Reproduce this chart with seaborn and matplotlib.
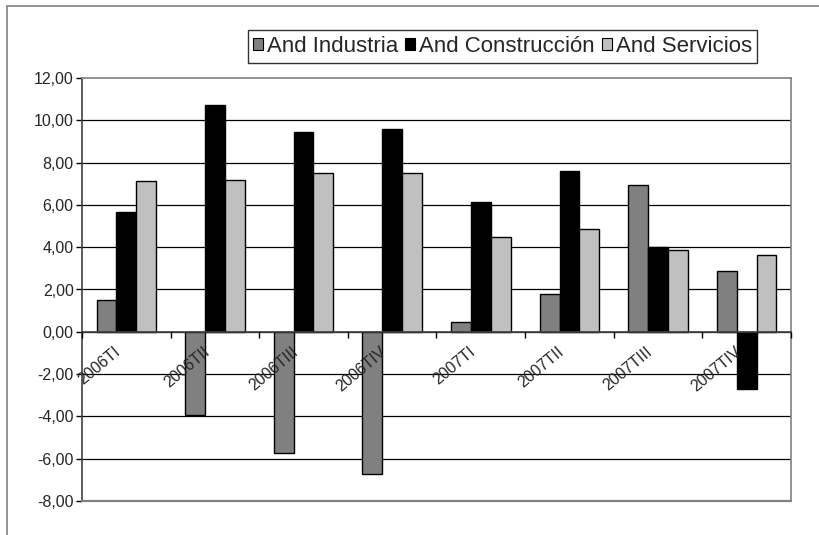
import numpy as np
import pandas as pd
import matplotlib
matplotlib.use("Agg")
import matplotlib.pyplot as plt
import seaborn as sns
from matplotlib.patches import Rectangle, Patch
from matplotlib.ticker import FixedLocator, FuncFormatter

sns.set_theme(style="white")
plt.rcParams["font.family"] = ["Liberation Sans", "DejaVu Sans"]

# Data
periodos = ["2006TI", "2006TII", "2006TIII", "2006TIV",
            "2007TI", "2007TII", "2007TIII", "2007TIV"]
industria = [1.50, -3.94, -5.75, -6.73, 0.47, 1.78, 6.92, 2.88]
construccion = [5.66, 10.70, 9.44, 9.57, 6.12, 7.58, 4.02, -2.71]
servicios = [7.13, 7.19, 7.49, 7.49, 4.49, 4.84, 3.86, 3.64]
series = ["And Industria", "And Construcción", "And Servicios"]
colores = ["#808080", "#000000", "#c0c0c0"]

df = pd.DataFrame({
    "Periodo": periodos * 3,
    "Serie": [series[0]] * 8 + [series[1]] * 8 + [series[2]] * 8,
    "Valor": industria + construccion + servicios,
})

fig = plt.figure(figsize=(8.2, 5.35), dpi=100)
ax = fig.add_axes([82 / 820, 1 - 501 / 535, (791 - 82) / 820, (501 - 78) / 535])

sns.barplot(data=df, x="Periodo", y="Valor", hue="Serie", order=periodos,
            hue_order=series, palette=colores, width=0.67, gap=0,
            edgecolor="black", linewidth=1.0, saturation=1, ax=ax,
            errorbar=None, legend=False)

ax.set_ylim(-8, 12)
ax.set_xlim(-0.5, len(periodos) - 0.5)
ax.set_yticks(np.arange(-8, 13, 2))
ax.yaxis.set_major_formatter(FuncFormatter(lambda v, p: f"{v:.2f}".replace(".", ",")))
ax.tick_params(axis="y", direction="out", length=4, width=1, color="black",
               labelsize=11.5, pad=2, left=True)

# horizontal gridlines
for v in np.arange(-6, 12, 2):
    ax.axhline(v, color="black", linewidth=0.9, zorder=0)

# x axis sits at zero, ticks between categories
ax.spines["bottom"].set_position(("data", 0))
ax.spines["bottom"].set_color("#404040")
ax.spines["bottom"].set_linewidth(1.2)
ax.xaxis.set_major_locator(FixedLocator(np.arange(-0.5, len(periodos), 1)))
ax.xaxis.set_minor_locator(FixedLocator(np.arange(len(periodos)) - 0.14))
ax.xaxis.set_major_formatter(plt.NullFormatter())
ax.set_xticklabels(periodos, minor=True, rotation=40, ha="right",
                   rotation_mode="anchor", fontsize=11.5)
ax.tick_params(axis="x", which="major", direction="out", length=4, width=1,
               color="black", bottom=True)
ax.tick_params(axis="x", which="minor", length=0, pad=9)
ax.xaxis.set_zorder(10)
ax.set_xlabel("")
ax.set_ylabel("")

for s in ["top", "right", "left"]:
    ax.spines[s].set_color("#808080")
    ax.spines[s].set_linewidth(1.2)
ax.spines["left"].set_color("#404040")
ax.axhline(-8, color="#808080", linewidth=1.6, zorder=3, clip_on=False)

# legend
handles = [Patch(facecolor=c, edgecolor="black", linewidth=0.8) for c in colores]
leg = fig.legend(handles, series, loc="center", ncol=3,
                 bbox_to_anchor=(502.5 / 820, 1 - 46.5 / 535),
                 fontsize=16, frameon=True, fancybox=False, borderpad=0.25,
                 handlelength=0.45, handleheight=0.45, handletextpad=0.18,
                 columnspacing=0.3, borderaxespad=0)
leg.get_frame().set_edgecolor("black")
leg.get_frame().set_linewidth(1.0)

# outer chart border (clipped at right and bottom)
fig.patches.append(Rectangle((7 / 820, -0.1), 1.2, 1 - 6 / 535 + 0.1,
                             transform=fig.transFigure, fill=False,
                             edgecolor="#808080", linewidth=1.2))

fig.savefig("out.png", dpi=100)
